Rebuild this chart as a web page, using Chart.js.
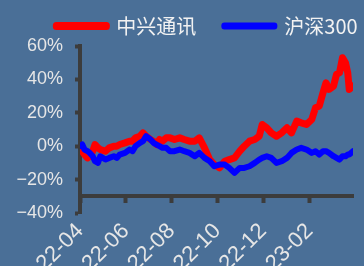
<!DOCTYPE html>
<html>
<head>
<meta charset="utf-8">
<script src="https://cdn.jsdelivr.net/npm/chart.js@4/dist/chart.umd.min.js"></script>
<style>
html,body{margin:0;padding:0;background:#4a6f97;}
canvas{display:block;}
</style>
</head>
<body>
<canvas id="c" width="364" height="266"></canvas>
<script>
// ---- data ----
const dates = [
 '2022-04-01','2022-04-04','2022-04-07','2022-04-11','2022-04-14','2022-04-18','2022-04-21','2022-04-25','2022-04-28',
 '2022-05-05','2022-05-10','2022-05-16','2022-05-20','2022-05-24','2022-05-31',
 '2022-06-06','2022-06-10','2022-06-14','2022-06-20','2022-06-24','2022-06-28',
 '2022-07-04','2022-07-08','2022-07-12','2022-07-16','2022-07-20','2022-07-25','2022-07-30',
 '2022-08-05','2022-08-12','2022-08-18','2022-08-25',
 '2022-09-01','2022-09-07','2022-09-14','2022-09-21','2022-09-27',
 '2022-10-04','2022-10-11','2022-10-17','2022-10-24','2022-10-31',
 '2022-11-06','2022-11-13','2022-11-20','2022-11-26','2022-11-30',
 '2022-12-06','2022-12-12','2022-12-19','2022-12-26',
 '2023-01-02','2023-01-08','2023-01-15','2023-01-21','2023-01-28',
 '2023-02-04','2023-02-09','2023-02-14','2023-02-19','2023-02-23','2023-02-27',
 '2023-03-05','2023-03-09','2023-03-13','2023-03-17','2023-03-21','2023-03-24','2023-03-26','2023-03-31'
];
const zte = [
 0,-3,-5,-7,-6,-3,1,-1,-2,
 -3,-1,0,0,1,2,
 3,3,5,6,8,6,
 4,3,1,4,3,5,5,
 4,5,4,3,
 3,5,-1,-8,-11,
 -13,-9,-8,-7,-3,
 0,3,4,6,13,
 11,8,6,8,
 11,8,15,14,13,
 16,23,24,32,38,34,
 36,43,44,53,50,44,34,36
];
const hs300 = [
 0,1,-2,-3,-4,-6,-9,-10,-6,
 -8,-7,-6,-7,-5,-4,
 -2,-3,0,2,3,6,
 4,2,1,0,-1,-1,-3,
 -3,-2,-3,-4,
 -6,-4,-7,-9,-12,
 -11,-11,-13,-16,-13,
 -13,-12,-10,-8,-7,
 -6,-7,-10,-9,
 -7,-4,-2,-1,-2,
 -4,-3,-5,-3,-3,-4,
 -6,-7,-8,-6,-6,-5,-5,-3
];
const seriesNames = ['中兴通讯','沪深300'];
const xTickDates = ['2022-04-01','2022-06-01','2022-08-01','2022-10-01','2022-12-01','2023-02-01'];
const xTickLabels = ['22-04','22-06','22-08','22-10','22-12','23-02'];
const yTickValues = [-40,-20,0,20,40,60];
const yTickLabels = ['−40%','−20%','0%','20%','40%','60%'];
const xEndDate = '2023-03-31';

// ---- helpers ----
const t0 = Date.parse(dates[0]);
const dayOf = d => (Date.parse(d) - t0) / 86400000;

const axisColor = '#3c3c3c';
const textColor = '#e6e6e6';

// shift the legend row to the right (reference legend is off-centre)
const legendShift = {
  id: 'legendShift',
  afterLayout(chart) {
    if (chart.legend) { chart.legend.left += 25; chart.legend.right += 25; }
  }
};

new Chart(document.getElementById('c'), {
  type: 'line',
  data: {
    datasets: [
      {
        label: seriesNames[0],
        data: dates.map((d, i) => ({x: dayOf(d), y: zte[i]})),
        borderColor: '#ff0000', backgroundColor: '#ff0000',
        borderWidth: 7, borderCapStyle: 'round', borderJoinStyle: 'round',
        pointRadius: 0, tension: 0, order: 2
      },
      {
        label: seriesNames[1],
        data: dates.map((d, i) => ({x: dayOf(d), y: hs300[i]})),
        borderColor: '#0000ff', backgroundColor: '#0000ff',
        borderWidth: 6, borderCapStyle: 'round', borderJoinStyle: 'round',
        pointRadius: 0, tension: 0, order: 1
      }
    ]
  },
  plugins: [legendShift],
  options: {
    responsive: false,
    animation: false,
    devicePixelRatio: 1,
    layout: {padding: {left: 0, right: 0, top: -12, bottom: 53}},
    plugins: {
      tooltip: {enabled: false},
      legend: {
        display: true,
        position: 'top',
        align: 'center',
        labels: {
          sort: (a, b) => a.datasetIndex - b.datasetIndex,
          boxWidth: 50,
          boxHeight: 1,
          padding: 28,
          color: '#f2f2f2',
          font: {family: 'Noto Sans CJK SC', size: 20}
        }
      }
    },
    scales: {
      x: {
        type: 'linear',
        position: {y: -30},
        min: 0,
        max: dayOf(xEndDate),
        afterBuildTicks: s => { s.ticks = xTickDates.map(d => ({value: dayOf(d)})); },
        afterFit: s => { s.paddingLeft = 0; s.paddingRight = 11; },
        border: {display: true, color: axisColor, width: 4},
        grid: {display: true, drawOnChartArea: false, drawTicks: true, tickLength: 5, tickWidth: 4, tickColor: axisColor},
        ticks: {
          autoSkip: false, minRotation: 45, maxRotation: 45, padding: 17,
          color: textColor, font: {family: 'Liberation Sans', size: 22},
          callback: (v, i) => xTickLabels[i]
        }
      },
      y: {
        type: 'linear',
        position: 'left',
        min: -40, max: 60,
        afterBuildTicks: s => { s.ticks = yTickValues.map(v => ({value: v})); },
        afterFit: s => { s.width = 80; s.paddingTop = 0; s.paddingBottom = 0; },
        border: {display: true, color: axisColor, width: 4},
        grid: {display: true, drawOnChartArea: false, drawTicks: true, tickLength: 5, tickWidth: 4, tickColor: axisColor},
        ticks: {
          padding: 12, color: textColor, font: {family: 'Liberation Sans', size: 18},
          callback: (v, i) => yTickLabels[i]
        }
      }
    }
  }
});
</script>
</body>
</html>
